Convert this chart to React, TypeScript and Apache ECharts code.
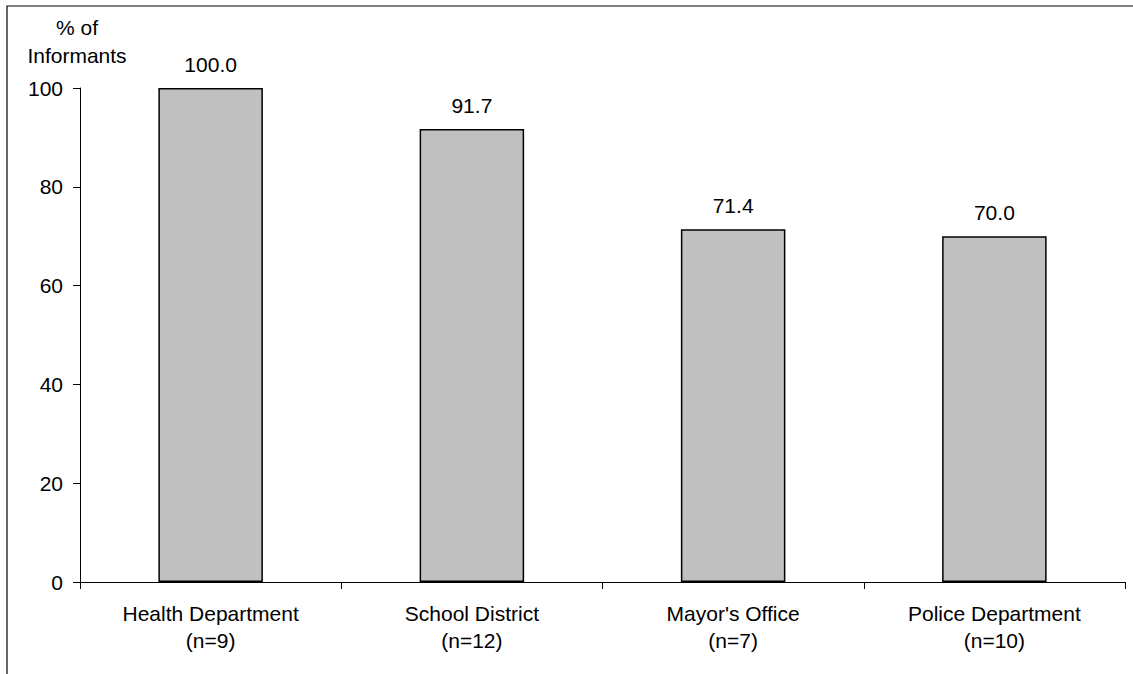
import React, { useEffect, useRef } from "react";
import * as echarts from "echarts";

// Share of informants by agency
const categories = [
  "Health Department\n(n=9)",
  "School District\n(n=12)",
  "Mayor's Office\n(n=7)",
  "Police Department\n(n=10)",
];
const percentages = [100.0, 91.7, 71.4, 70.0];
const yTicks = { min: 0, max: 100, interval: 20 };

const FONT = "'Liberation Sans', Arial, sans-serif";
const FS = 21;

export default function App() {
  const ref = useRef<HTMLDivElement>(null);

  useEffect(() => {
    if (!ref.current) return;
    const chart = echarts.init(ref.current, null, { renderer: "svg" });
    chart.setOption({
      animation: false,
      backgroundColor: "#ffffff",
      textStyle: { fontFamily: FONT },
      grid: { left: 80, right: 8, top: 88, bottom: 92, containLabel: false },
      graphic: [
        {
          type: "rect",
          shape: { x: 7, y: 6, width: 1200, height: 800 },
          style: { fill: "none", stroke: "#000000", lineWidth: 1.2 },
          silent: true,
        },
      ],
      xAxis: {
        type: "category",
        data: categories,
        axisLine: { lineStyle: { color: "#000000", width: 1 } },
        axisTick: { show: true, length: 7, alignWithLabel: false, lineStyle: { color: "#000000" } },
        axisLabel: {
          color: "#000000",
          fontSize: FS,
          fontFamily: FONT,
          lineHeight: 27,
          margin: 18,
          interval: 0,
        },
        splitLine: { show: false },
      },
      yAxis: {
        type: "value",
        min: yTicks.min,
        max: yTicks.max,
        interval: yTicks.interval,
        name: "% of\nInformants",
        nameLocation: "end",
        nameGap: 19,
        nameTextStyle: {
          color: "#000000",
          fontSize: FS,
          fontFamily: FONT,
          lineHeight: 28,
          align: "center",
          padding: [0, 6, 0, 0],
        },
        axisLine: { show: true, lineStyle: { color: "#000000", width: 1 } },
        axisTick: { show: true, length: 7, lineStyle: { color: "#000000" } },
        axisLabel: { color: "#000000", fontSize: FS, fontFamily: FONT, margin: 17 },
        splitLine: { show: false },
      },
      series: [
        {
          type: "bar",
          data: percentages,
          barWidth: "40%",
          itemStyle: { color: "#c0c0c0", borderColor: "#000000", borderWidth: 1.5 },
          label: {
            show: true,
            position: "top",
            distance: 13,
            color: "#000000",
            fontSize: FS,
            fontFamily: FONT,
            formatter: (p: any) => Number(p.value).toFixed(1),
          },
        },
      ],
    });
    return () => chart.dispose();
  }, []);

  return (
    <div
      ref={ref}
      style={{ position: "fixed", left: 0, top: 0, width: 1133, height: 674 }}
    />
  );
}
